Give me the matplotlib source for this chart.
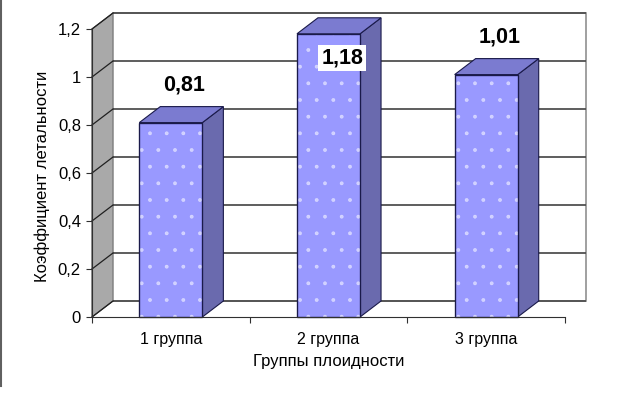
import numpy as np
import matplotlib.pyplot as plt
from matplotlib.patches import Polygon
from matplotlib.lines import Line2D

plt.rcParams['font.family'] = ['Liberation Sans', 'DejaVu Sans']

categories = ['1 группа', '2 группа', '3 группа']
values = [0.81, 1.18, 1.01]
value_labels = ['0,81', '1,18', '1,01']
yticks = [0, 0.2, 0.4, 0.6, 0.8, 1.0, 1.2]
ytick_labels = ['0', '0,2', '0,4', '0,6', '0,8', '1', '1,2']

W, H = 625, 396
fig = plt.figure(figsize=(W / 100, H / 100), dpi=100)
# front plane of the 3d box, in pixels
x0, x1, yb, yt = 92, 565, 317, 29
ax = fig.add_axes([x0 / W, (H - yb) / H, (x1 - x0) / W, (yb - yt) / H])
ax.set_xlim(-0.5, 2.5)
ax.set_ylim(0, 1.2)
ax.patch.set_visible(False)

# depth offset (21 px right, 16 px up) in data units
ddx = 21 / ((x1 - x0) / 3)
ddy = 16 / ((yb - yt) / 1.2)
grid_c = '#505050'

# left side wall
ax.add_patch(Polygon([(-0.5, 0), (-0.5 + ddx, ddy), (-0.5 + ddx, 1.2 + ddy), (-0.5, 1.2)],
                     closed=True, facecolor='#a9a9a9', edgecolor='#404040', lw=0.8,
                     clip_on=False, zorder=0))
# back wall
ax.add_patch(Polygon([(-0.5 + ddx, ddy), (2.5 + ddx, ddy), (2.5 + ddx, 1.2 + ddy), (-0.5 + ddx, 1.2 + ddy)],
                     closed=True, facecolor='white', edgecolor='#909090', lw=1.2,
                     clip_on=False, zorder=0))
# gridlines on back and side walls
for t in yticks:
    ax.plot([-0.5 + ddx, 2.5 + ddx], [t + ddy, t + ddy], color=grid_c, lw=1.3,
            clip_on=False, zorder=1, solid_capstyle='butt')
    ax.plot([-0.5, -0.5 + ddx], [t, t + ddy], color='#202020', lw=0.9,
            clip_on=False, zorder=1)

# bars
bw = 0.4
front_c, side_c, top_c = '#9999ff', '#6a6aae', '#7b7bd0'
xs = np.arange(len(values))
for x, v in zip(xs, values):
    l, r = x - bw / 2, x + bw / 2
    ax.add_patch(Polygon([(r, 0), (r + ddx, ddy), (r + ddx, v + ddy), (r, v)], closed=True,
                         facecolor=side_c, edgecolor='#1a1a4a', lw=0.8, clip_on=False, zorder=2))
    ax.add_patch(Polygon([(l, v), (r, v), (r + ddx, v + ddy), (l + ddx, v + ddy)], closed=True,
                         facecolor=top_c, edgecolor='#1a1a4a', lw=0.8, clip_on=False, zorder=2))
ax.bar(xs, values, width=bw, color=front_c, edgecolor='#1a1a4a', lw=0.8, zorder=3, clip_on=False)
plt.rcParams['hatch.linewidth'] = 0.3
ax.bar(xs, values, width=bw, color='none', edgecolor=(1, 1, 1, 0.55), hatch='.', lw=0,
       zorder=3.5, clip_on=False)
ax.bar(xs, values, width=bw, color='none', edgecolor='#1a1a4a', lw=0.9, zorder=3.6, clip_on=False)

# value labels (pushed inside the bar when there is no room above)
for x, v, s in zip(xs, values, value_labels):
    ly = v + 0.155 if v + 0.155 <= 1.2 else v - 0.1
    ax.text(x + ddx / 2 + 0.02, ly, s, ha='center', va='center',
            fontsize=15.5, fontweight='bold', zorder=5,
            bbox=dict(facecolor='white', edgecolor='none', pad=2))

# axes
for s in ['top', 'right']:
    ax.spines[s].set_visible(False)
ax.spines['left'].set_color('#303030')
ax.spines['bottom'].set_color('#303030')
ax.spines['left'].set_zorder(4)
ax.spines['bottom'].set_zorder(4)
ax.set_yticks(yticks)
ax.set_yticklabels(ytick_labels, fontsize=12)
ax.set_xticks([-0.5, 0.5, 1.5, 2.5])
ax.set_xticklabels([])
ax.set_xticks(xs, minor=True)
ax.set_xticklabels(categories, minor=True, fontsize=11.5)
ax.tick_params(axis='y', length=4, width=0.8, color='#303030', pad=4)
ax.tick_params(axis='x', which='major', length=4, width=0.8, color='#303030')
ax.tick_params(axis='x', which='minor', length=0, pad=11)

ax.set_xlabel('Группы плоидности', fontsize=12, labelpad=5)
ax.set_ylabel('Коэффициент летальности', fontsize=12)
ax.yaxis.set_label_coords(-0.088, 0.49)

# figure border on the left
fig.add_artist(Line2D([0.5 / W, 0.5 / W], [1, (H - 386) / H], color='#606060', lw=1.5,
                      transform=fig.transFigure))

fig.savefig('out.png', dpi=100)
